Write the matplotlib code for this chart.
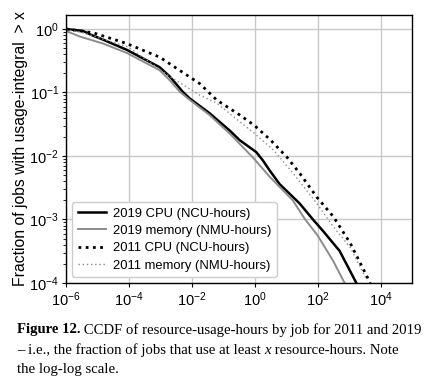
import matplotlib
matplotlib.use("Agg")
import matplotlib.pyplot as plt

plt.rcParams["font.family"] = ["Liberation Sans", "DejaVu Sans"]
plt.rcParams["mathtext.fontset"] = "custom"
plt.rcParams["mathtext.rm"] = "Liberation Sans"
plt.rcParams["mathtext.it"] = "Liberation Sans:italic"
plt.rcParams["mathtext.bf"] = "Liberation Sans:bold"

# 2019 CPU (NCU-hours)
cpu19_x = [1e-6, 3.5e-6, 6.6e-6, 1.5e-5, 8.5e-5, 9.5e-4, 2.0e-3, 5.2e-3, 8.7e-3, 3.7e-2,
           0.162, 0.33, 1.12, 1.82, 3.0, 6.2, 27, 71, 148, 500, 1700]
cpu19_y = [1.0, 0.93, 0.80, 0.68, 0.47, 0.25, 0.178, 0.102, 0.080, 0.047,
           0.025, 0.0178, 0.0115, 0.0085, 0.0059, 0.0036, 0.00178, 0.00100, 0.00066,
           0.00032, 0.000100]

# 2019 memory (NMU-hours)
mem19_x = [1e-6, 2.75e-6, 1.5e-5, 8.5e-5, 9.5e-4, 2.0e-3, 4.2e-3, 8.7e-3, 3.7e-2, 0.162,
           0.87, 3.0, 16.2, 39, 100, 310, 720]
mem19_y = [0.93, 0.76, 0.59, 0.42, 0.224, 0.155, 0.102, 0.076, 0.044, 0.0224,
           0.0095, 0.0047, 0.0020, 0.00102, 0.00056, 0.000224, 0.000100]

# 2011 CPU (NCU-hours)
cpu11_x = [1e-6, 7.4e-6, 8.5e-5, 9.5e-4, 1.78e-2, 6.2e-2, 0.34, 1.0, 3.2, 10.7, 28, 95,
           320, 1100, 4700]
cpu11_y = [1.0, 0.87, 0.59, 0.36, 0.138, 0.076, 0.044, 0.030, 0.0178, 0.0095, 0.0052,
           0.00224, 0.0011, 0.00042, 0.000100]

# 2011 memory (NMU-hours)
mem11_x = [1e-6, 3.5e-6, 9.5e-5, 2.0e-3, 1.78e-2, 6.2e-2, 1.0, 4.0, 17.4, 95, 320, 1100,
           3700]
mem11_y = [0.98, 0.87, 0.52, 0.178, 0.091, 0.068, 0.0224, 0.0123, 0.0052, 0.00178,
           0.00076, 0.00036, 0.00011]

labels = ["2019 CPU (NCU-hours)", "2019 memory (NMU-hours)",
          "2011 CPU (NCU-hours)", "2011 memory (NMU-hours)"]

fig = plt.figure(figsize=(4.34, 3.86), dpi=100)
ax = fig.add_axes([66/434, 1 - 283/386, (412-66)/434, (283-15)/386])

ax.plot(cpu19_x, cpu19_y, color="black", lw=1.8, label=labels[0])
ax.plot(mem19_x, mem19_y, color="#8c8c8c", lw=1.4, label=labels[1])
ax.plot(cpu11_x, cpu11_y, color="black", lw=2.0, ls=(0, (1, 1.6)), label=labels[2])
ax.plot(mem11_x, mem11_y, color="#8c8c8c", lw=1.0, ls=(0, (1, 2)), label=labels[3])

ax.set_xscale("log")
ax.set_yscale("log")
ax.set_xlim(1e-6, 1e5)
ax.set_ylim(1e-4, 1.66)
ax.set_xticks([1e-6, 1e-4, 1e-2, 1e0, 1e2, 1e4])
ax.set_yticks([1e-4, 1e-3, 1e-2, 1e-1, 1e0])
ax.xaxis.set_minor_locator(matplotlib.ticker.NullLocator())
ax.grid(True, which="major", color="#c8c8c8", lw=1.0)
ax.tick_params(axis="both", which="major", labelsize=10.5, length=3, color="black", pad=2)
ax.tick_params(axis="y", which="minor", length=2)
for s in ax.spines.values():
    s.set_color("black")
    s.set_linewidth(1.0)
ax.set_axisbelow(True)

ax.set_ylabel("Fraction of jobs with usage-integral  > x", fontsize=11.3, labelpad=1)

ax.legend(loc="lower left", fontsize=9.4, frameon=True, framealpha=1.0,
          edgecolor="#cccccc", handlelength=2.2, handletextpad=0.5, borderpad=0.42,
          labelspacing=0.4, bbox_to_anchor=(0.018, 0.022), borderaxespad=0)

cap_font = "Liberation Serif"
cs = 10.6
renderer = fig.canvas.get_renderer()
x0 = 17 / 434
W = fig.bbox.width


def place(parts, y):
    x = x0
    for txt, kw in parts:
        t = fig.text(x, 1 - y / 386, txt, fontsize=cs, va="center", family=cap_font, **kw)
        bb = t.get_window_extent(renderer=renderer)
        x += bb.width / W


place([("Figure 12.", {"weight": "bold"}),
       (" CCDF of resource-usage-hours by job for 2011 and 2019", {})], 330)
place([("– i.e., the fraction of jobs that use at least ", {}),
       ("x", {"style": "italic"}),
       (" resource-hours. Note", {})], 350)
place([("the log-log scale.", {})], 370)

fig.savefig("out.png", dpi=100)
